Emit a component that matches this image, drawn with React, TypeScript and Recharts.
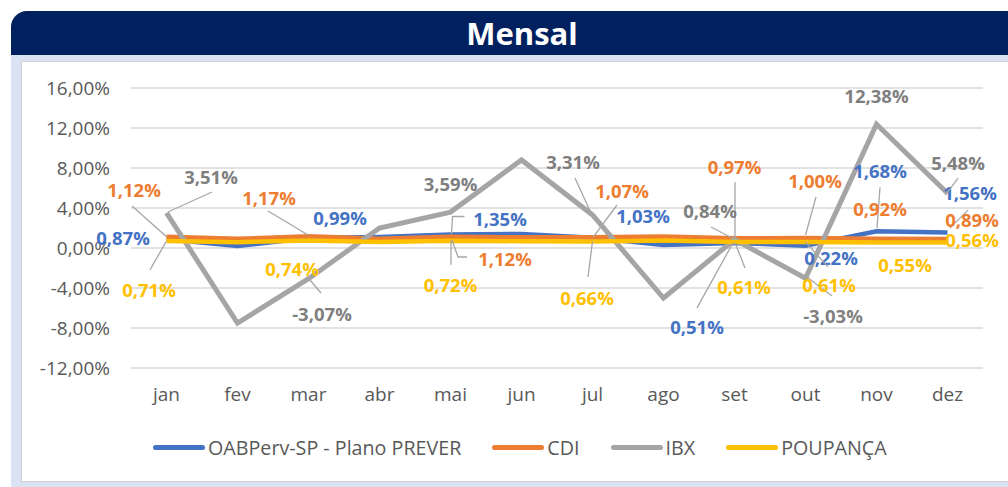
import React from 'react';
import { LineChart, Line, XAxis, YAxis, CartesianGrid, Legend, LabelList } from 'recharts';

const months = ['jan', 'fev', 'mar', 'abr', 'mai', 'jun', 'jul', 'ago', 'set', 'out', 'nov', 'dez'];
const prever = [0.87, 0.2, 0.99, 1.1, 1.35, 1.4, 1.03, 0.3, 0.51, 0.22, 1.68, 1.56];
const cdi = [1.12, 0.92, 1.17, 0.92, 1.12, 1.07, 1.07, 1.14, 0.97, 1.0, 0.92, 0.89];
const ibx = [3.51, -7.5, -3.07, 2.0, 3.59, 8.8, 3.31, -5.0, 0.84, -3.03, 12.38, 5.48];
const poupanca = [0.71, 0.58, 0.74, 0.6, 0.72, 0.68, 0.66, 0.74, 0.61, 0.61, 0.55, 0.56];
const yTicks = [-12, -8, -4, 0, 4, 8, 12, 16];
const seriesKeys = ['prever', 'cdi', 'ibx', 'poupanca'];
const seriesNames = ['OABPerv-SP - Plano PREVER', 'CDI', 'IBX', 'POUPANÇA'];
const seriesColors = ['#4472C4', '#ED7D31', '#A5A5A5', '#FFC000'];
const labelColors = ['#4472C4', '#ED7D31', '#7F7F7F', '#FFC000'];

const data = months.map((m, i) => ({
  month: m,
  prever: prever[i],
  cdi: cdi[i],
  ibx: ibx[i],
  poupanca: poupanca[i],
}));

// label placement: [dx, dy, leader polyline relative to point]
type Place = [number, number, number[][]?] | null;
const placements: Place[][] = [
  [
    [-43.5, -2], null, [31.5, -21], null,
    [49.5, -16.5, [[14, -18], [2, -18], [1, 0]]], null,
    [50.5, -22.7], null,
    [-37.5, 84, [[-37.5, 65], [-1.5, 0]]],
    [25.5, 12], [3.5, -61, [[3.5, -44], [0.5, -3]]], [22.5, -40],
  ],
  [
    [-32.5, -47.8, [[-34.5, -30.8], [0, 0]]], null,
    [-39.5, -39.3, [[-40.5, -25.3], [0, -1]]], null,
    [54.5, 21.2, [[16.5, 20.2], [7.5, 20.2], [1.5, 3.2]]], null,
    [29.5, -47.3, [[24.5, -32.3], [0.5, 0]]], null,
    [0, -72, [[0.5, -56], [0.5, -1]]],
    [9.5, -58, [[10.5, -41], [0, -3]]],
    [3.5, -30.8],
    [24.5, -20, [[20.5, -29], [2.5, -11]]],
  ],
  [
    [44.5, -36.9, [[45.5, -20.9], [1.5, -0.9]]], null,
    [13.5, 34.3, [[12.5, 14.3], [1.5, 1.3]]], null,
    [0, -29], null,
    [-19.5, -53, [[-17.5, -37], [-1.5, -2]]], null,
    [-24.5, -29.6, [[-23.5, -12.6], [-2.5, -1.6]]],
    [27.5, 36.7, [[26.5, 17.7], [1.5, -1.3]]],
    [0, -29],
    [10.5, -31, [[10.5, -15], [-2, 2]]],
  ],
  [
    [-17.5, 49, [[-16.5, 29], [-0.5, 1]]], null,
    [-16.5, 27.4], null,
    [0, 44, [[0.5, 24], [0.5, 0]]], null,
    [-5.5, 55.6, [[-4.5, 35.6], [0, 0]]], null,
    [9.5, 45, [[10.5, 26], [0.5, 1]]],
    [23.5, 43, [[22.5, 25], [0, 0]]],
    [28.5, 21.5],
    [24.5, -3.4],
  ],
];

const FONT = '"Open Sans", sans-serif';
const fmt = (v: number) => v.toFixed(2).replace('.', ',') + '%';

const makeLabel = (s: number) => (props: any) => {
  const { value, index } = props;
  const x = props.x ?? props.viewBox?.x;
  const y = props.y ?? props.viewBox?.y;
  const p = placements[s][index];
  if (!p || value == null || x == null || y == null) return null;
  const [dx, dy, leader] = p;
  return (
    <g>
      {leader && (
        <polyline
          points={leader.map(([a, b]) => `${x + a},${y + b}`).join(' ')}
          fill="none"
          stroke="#A6A6A6"
          strokeWidth={1.3}
        />
      )}
      <text
        x={x + dx}
        y={y + dy}
        textAnchor="middle"
        dominantBaseline="central"
        fontFamily={FONT}
        fontWeight={700}
        fontSize={18.5}
        fill={labelColors[s]}
      >
        {fmt(Number(value))}
      </text>
    </g>
  );
};

const LegendContent = () => (
  <div style={{ display: 'flex', alignItems: 'center', height: 24, paddingLeft: 153, fontFamily: FONT, fontSize: 19.7, color: '#595959' }}>
    {seriesNames.map((n, i) => (
      <div key={n} style={{ display: 'flex', alignItems: 'center', marginRight: 31 }}>
        <div style={{ width: 52, height: 5, borderRadius: 3, background: seriesColors[i], marginRight: 3 }} />
        <span style={{ whiteSpace: 'nowrap' }}>{n}</span>
      </div>
    ))}
  </div>
);

export default function App() {
  return (
    <div style={{ position: 'absolute', left: 0, top: 0, width: 1008, height: 487, background: '#fff', overflow: 'hidden' }}>
      <div style={{ position: 'absolute', left: 11, top: 11, width: 1030, height: 490, background: '#DAE3F3', borderRadius: 16 }} />
      <div style={{ position: 'absolute', left: 11, top: 11, width: 1030, height: 44, background: '#002060', borderTopLeftRadius: 16 }} />
      <div style={{ position: 'absolute', left: 21, top: 61, width: 1030, height: 419, background: '#fff', border: '1px solid #D0D0D0' }} />
      <div style={{ position: 'absolute', left: 11, top: 11, width: 1022, height: 44, display: 'flex', alignItems: 'center', justifyContent: 'center', color: '#fff', fontFamily: FONT, fontWeight: 700, fontSize: 31 }}>
        Mensal
      </div>
      <div style={{ position: 'absolute', left: 0, top: 0 }}>
        <LineChart width={1008} height={487} data={data} margin={{ top: 88, right: 25, bottom: 28, left: 0 }}>
          <CartesianGrid vertical={false} stroke="#D9D9D9" strokeWidth={1.3} />
          <XAxis
            dataKey="month"
            axisLine={false}
            tickLine={false}
            height={67}
            tickMargin={14}
            padding={{ left: 35.5, right: 35.5 }}
            tick={{ fill: '#595959', fontSize: 19, fontFamily: FONT }}
            interval={0}
          />
          <YAxis
            domain={[-12, 16]}
            ticks={yTicks}
            interval={0}
            width={131}
            axisLine={false}
            tickLine={false}
            tickMargin={15}
            tickFormatter={(v: number) => v.toFixed(2).replace('.', ',') + '%'}
            tick={{ fill: '#595959', fontSize: 19, fontFamily: FONT }}
          />
          <Legend verticalAlign="bottom" content={LegendContent} wrapperStyle={{ left: 0, width: 1008 }} />
          {seriesKeys.map((k, i) => (
            <Line
              key={k}
              dataKey={k}
              name={seriesNames[i]}
              stroke={seriesColors[i]}
              strokeWidth={i === 2 ? 5 : 4.5}
              dot={false}
              activeDot={false}
              isAnimationActive={false}
            />
          ))}
          {seriesKeys.map((k, i) => (
            <Line
              key={k + '-labels'}
              dataKey={k}
              stroke="none"
              legendType="none"
              dot={false}
              activeDot={false}
              isAnimationActive={false}
            >
              <LabelList dataKey={k} content={makeLabel(i)} />
            </Line>
          ))}
        </LineChart>
      </div>
    </div>
  );
}
